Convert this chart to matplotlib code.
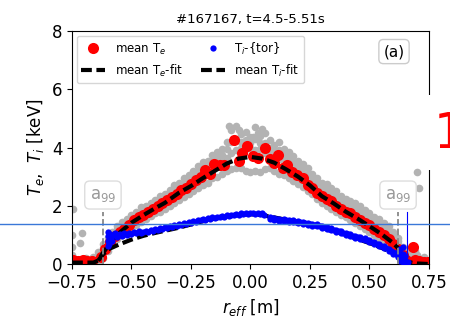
import numpy as np
import matplotlib
matplotlib.use("Agg")
import matplotlib.pyplot as plt
from matplotlib.lines import Line2D
from matplotlib.patches import Rectangle

title = "#167167, t=4.5-5.51s"
x_ticks = [-0.75, -0.50, -0.25, 0.00, 0.25, 0.50, 0.75]
y_ticks = [0, 2, 4, 6, 8]
a99_pos = [-0.62, 0.62]
ti_edge = 0.657

# raw Thomson channels (grey cloud): one r grid, four rows of values
gray_r = [-0.66, -0.64, -0.62, -0.60, -0.58, -0.56, -0.54, -0.52, -0.50, -0.48,
          -0.46, -0.44, -0.42, -0.40, -0.38, -0.36, -0.34, -0.32, -0.30, -0.28,
          -0.26, -0.24, -0.22, -0.20, -0.18, -0.16, -0.14, -0.12, -0.10, -0.08,
          -0.06, -0.04, -0.02, 0.00, 0.02, 0.04, 0.06, 0.08, 0.10, 0.12,
          0.14, 0.16, 0.18, 0.20, 0.22, 0.24, 0.26, 0.28, 0.30, 0.32,
          0.34, 0.36, 0.38, 0.40, 0.42, 0.44, 0.46, 0.48, 0.50, 0.52,
          0.54, 0.56, 0.58, 0.60, 0.62, 0.64, 0.66, 0.68]
gray_hi = [0.25, 0.4, 0.7, 0.9, 1.1, 1.3, 1.45, 1.55, 1.7, 1.8,
           1.95, 2.0, 2.1, 2.2, 2.35, 2.4, 2.55, 2.7, 2.8, 2.95,
           3.05, 3.2, 3.35, 3.5, 3.55, 3.75, 3.85, 3.95, 4.2, 4.6,
           4.75, 4.45, 4.55, 4.35, 4.7, 4.4, 4.5, 4.25, 4.1, 4.2,
           3.95, 3.85, 3.7, 3.55, 3.45, 3.3, 3.1, 2.95, 2.8, 2.75,
           2.6, 2.5, 2.35, 2.25, 2.15, 2.1, 2.0, 1.85, 1.75, 1.6,
           1.55, 1.4, 1.3, 1.1, 0.9, 0.6, 0.5, 0.35]
gray_up = [0.15, 0.3, 0.55, 0.8, 1.0, 1.2, 1.35, 1.45, 1.6, 1.7,
           1.8, 1.9, 2.0, 2.1, 2.2, 2.3, 2.45, 2.55, 2.65, 2.8,
           2.9, 3.0, 3.15, 3.3, 3.35, 3.55, 3.65, 3.75, 3.95, 4.2,
           4.3, 4.2, 4.25, 4.15, 4.3, 4.15, 4.15, 4.0, 3.9, 3.9,
           3.75, 3.65, 3.5, 3.4, 3.3, 3.1, 2.95, 2.85, 2.7, 2.6,
           2.5, 2.35, 2.25, 2.1, 2.0, 1.95, 1.85, 1.7, 1.6, 1.5,
           1.4, 1.3, 1.15, 1.0, 0.8, 0.5, 0.4, 0.25]
gray_mid = [0.1, 0.2, 0.45, 0.7, 0.9, 1.1, 1.25, 1.35, 1.5, 1.6,
            1.7, 1.8, 1.9, 2.0, 2.1, 2.2, 2.3, 2.4, 2.55, 2.6,
            2.75, 2.85, 2.95, 3.1, 3.2, 3.3, 3.45, 3.55, 3.65, 3.8,
            3.9, 4.0, 3.95, 4.0, 3.9, 3.95, 3.8, 3.75, 3.7, 3.6,
            3.5, 3.45, 3.3, 3.2, 3.1, 2.95, 2.85, 2.7, 2.55, 2.45,
            2.35, 2.25, 2.1, 2.0, 1.9, 1.8, 1.7, 1.6, 1.5, 1.4,
            1.3, 1.15, 1.0, 0.85, 0.7, 0.4, 0.3, 0.2]
gray_lo = [0.02, 0.05, 0.2, 0.45, 0.65, 0.85, 1.0, 1.15, 1.25, 1.35,
           1.45, 1.55, 1.65, 1.75, 1.8, 1.9, 2.0, 2.1, 2.2, 2.3,
           2.4, 2.5, 2.6, 2.7, 2.8, 2.95, 3.0, 3.1, 3.2, 3.25,
           3.3, 3.3, 3.2, 3.15, 3.2, 3.15, 3.25, 3.3, 3.2, 3.1,
           3.05, 2.95, 2.85, 2.75, 2.65, 2.5, 2.4, 2.25, 2.1, 2.0,
           1.9, 1.8, 1.7, 1.6, 1.5, 1.4, 1.3, 1.2, 1.1, 1.0,
           0.9, 0.8, 0.65, 0.55, 0.4, 0.15, 0.05, 0.05]
# scattered channels outside the main band
gray_extra = [(-0.745, 1.9), (-0.75, 1.0), (-0.75, 0.6), (-0.75, 0.3), (-0.74, 0.1),
              (-0.72, 0.05), (-0.716, 0.71), (-0.708, 1.05), (-0.70, 0.15), (-0.69, 0.2),
              (-0.68, 0.05), (-0.09, 4.75), (-0.05, 4.6), (-0.03, 4.2), (0.01, 4.35),
              (0.03, 4.5), (0.05, 4.65), (0.69, 0.45), (0.70, 3.16), (0.71, 2.6),
              (0.70, 0.3), (0.72, 0.15), (0.73, 0.25), (0.74, 0.05)]

# binned mean Te
te_mean = [(-0.745, 0.15), (-0.725, 0.12), (-0.705, 0.15), (-0.685, 0.1), (-0.665, 0.12),
           (-0.63, 0.25), (-0.61, 0.5), (-0.59, 0.75), (-0.57, 0.95), (-0.55, 1.1),
           (-0.53, 1.2), (-0.51, 1.35), (-0.49, 1.5), (-0.47, 1.62), (-0.45, 1.7),
           (-0.43, 1.8), (-0.41, 1.88), (-0.39, 2.0), (-0.37, 2.1), (-0.35, 2.2),
           (-0.33, 2.3), (-0.31, 2.4), (-0.29, 2.55), (-0.27, 2.62), (-0.25, 2.75),
           (-0.23, 2.9), (-0.21, 3.0), (-0.19, 3.22), (-0.17, 3.1), (-0.155, 3.45),
           (-0.13, 3.4), (-0.11, 3.4), (-0.07, 4.26), (-0.05, 3.55), (-0.035, 3.8),
           (-0.015, 4.05), (0.01, 3.7), (0.03, 3.65), (0.06, 3.98), (0.08, 3.6),
           (0.10, 3.47), (0.115, 3.75), (0.135, 3.3), (0.155, 3.4), (0.175, 3.15),
           (0.195, 3.06), (0.22, 2.95), (0.24, 2.7), (0.26, 2.6), (0.28, 2.45),
           (0.30, 2.35), (0.32, 2.25), (0.34, 2.15), (0.36, 2.0), (0.38, 1.9),
           (0.40, 1.8), (0.42, 1.75), (0.44, 1.6), (0.46, 1.5), (0.48, 1.4),
           (0.50, 1.35), (0.52, 1.2), (0.54, 1.1), (0.56, 1.0), (0.58, 0.85),
           (0.60, 0.7), (0.62, 0.5), (0.64, 0.3), (0.655, 0.15), (0.683, 0.58),
           (0.69, 0.15), (0.71, 0.1), (0.73, 0.08), (0.745, 0.06)]

# Te fit
te_fit_r = [-0.75, -0.70, -0.66, -0.64, -0.62, -0.60, -0.58, -0.55, -0.50, -0.45,
            -0.40, -0.36, -0.30, -0.25, -0.20, -0.15, -0.10, -0.05, 0.00, 0.05,
            0.10, 0.15, 0.20, 0.25, 0.30, 0.35, 0.40, 0.45, 0.50, 0.55,
            0.60, 0.62, 0.64, 0.66, 0.70, 0.75]
te_fit = [0.05, 0.05, 0.05, 0.12, 0.38, 0.6, 0.82, 1.08, 1.42, 1.68,
          1.92, 2.1, 2.45, 2.68, 2.95, 3.2, 3.45, 3.62, 3.68, 3.62,
          3.48, 3.25, 3.0, 2.7, 2.33, 2.08, 1.8, 1.56, 1.3, 1.03,
          0.72, 0.55, 0.25, 0.07, 0.02, 0.0]

# toroidal Ti points
ti_pts = [(-0.60, 0.62), (-0.60, 0.78), (-0.60, 0.95), (-0.60, 1.1), (-0.595, 0.7),
          (-0.59, 0.88), (-0.59, 1.02), (-0.58, 0.8), (-0.58, 0.95), (-0.57, 1.05),
          (-0.56, 0.92), (-0.55, 1.02), (-0.54, 0.95), (-0.53, 1.05), (-0.52, 1.0),
          (-0.51, 1.08), (-0.50, 1.02), (-0.49, 1.1), (-0.48, 1.05), (-0.47, 1.12),
          (-0.46, 1.06), (-0.45, 1.1), (-0.44, 1.14), (-0.43, 1.1), (-0.42, 1.18),
          (-0.41, 1.15), (-0.40, 1.2), (-0.39, 1.18), (-0.38, 1.25), (-0.37, 1.22),
          (-0.36, 1.26), (-0.35, 1.24), (-0.34, 1.3), (-0.33, 1.28), (-0.32, 1.33),
          (-0.31, 1.3), (-0.30, 1.38), (-0.29, 1.35), (-0.28, 1.4), (-0.27, 1.38),
          (-0.26, 1.45), (-0.25, 1.42), (-0.24, 1.47), (-0.23, 1.45), (-0.22, 1.52),
          (-0.21, 1.5), (-0.20, 1.54), (-0.19, 1.52), (-0.18, 1.58), (-0.17, 1.55),
          (-0.16, 1.6), (-0.15, 1.58), (-0.14, 1.63), (-0.13, 1.6), (-0.12, 1.65),
          (-0.11, 1.63), (-0.10, 1.68), (-0.09, 1.66), (-0.08, 1.7), (-0.07, 1.68),
          (-0.06, 1.73), (-0.05, 1.7), (-0.04, 1.74), (-0.03, 1.72), (-0.02, 1.76),
          (-0.01, 1.72), (0.00, 1.74), (0.01, 1.76), (0.02, 1.73), (0.03, 1.75),
          (0.04, 1.72), (0.05, 1.74), (0.055, 1.7),
          (0.08, 1.61), (0.08, 1.54), (0.09, 1.57), (0.10, 1.58), (0.10, 1.51),
          (0.11, 1.54), (0.12, 1.56), (0.12, 1.49), (0.13, 1.52), (0.14, 1.54),
          (0.14, 1.47), (0.15, 1.5), (0.16, 1.52), (0.16, 1.45), (0.17, 1.48),
          (0.18, 1.5), (0.18, 1.43), (0.19, 1.46), (0.20, 1.48), (0.20, 1.41),
          (0.21, 1.44), (0.22, 1.45), (0.22, 1.38), (0.23, 1.4), (0.24, 1.42),
          (0.24, 1.35), (0.25, 1.37), (0.26, 1.39), (0.26, 1.32), (0.27, 1.34),
          (0.28, 1.36), (0.28, 1.29), (0.29, 1.31), (0.30, 1.32), (0.30, 1.25),
          (0.31, 1.27), (0.32, 1.28), (0.32, 1.21), (0.33, 1.22), (0.34, 1.23),
          (0.34, 1.16), (0.35, 1.18), (0.36, 1.18), (0.36, 1.11), (0.37, 1.13),
          (0.38, 1.13), (0.38, 1.06), (0.39, 1.07), (0.40, 1.07), (0.40, 1.0),
          (0.41, 1.02), (0.42, 1.03), (0.42, 0.96), (0.43, 0.97), (0.44, 0.98),
          (0.44, 0.91), (0.45, 0.92), (0.46, 0.93), (0.46, 0.86), (0.47, 0.87),
          (0.48, 0.88), (0.48, 0.81), (0.49, 0.82), (0.50, 0.82), (0.50, 0.75),
          (0.51, 0.76), (0.52, 0.76), (0.52, 0.69), (0.53, 0.7), (0.54, 0.7),
          (0.54, 0.63), (0.55, 0.63), (0.56, 0.62), (0.56, 0.55), (0.57, 0.55),
          (0.58, 0.53), (0.58, 0.46), (0.59, 0.45), (0.60, 0.43), (0.60, 0.36),
          (0.61, 0.34), (0.62, 0.31), (0.62, 0.24), (0.62, 0.42), (0.63, 0.12),
          (0.63, 0.22), (0.63, 0.5), (0.64, 0.06), (0.64, 0.17), (0.64, 0.33),
          (0.64, 0.6), (0.65, 0.04), (0.65, 0.12), (0.65, 0.26), (0.655, 0.05),
          (0.66, 0.08)]

# Ti fit
ti_fit_r = [-0.64, -0.62, -0.60, -0.55, -0.50, -0.45, -0.40, -0.35, -0.30, -0.25,
            -0.20, -0.15, -0.10, -0.05, 0.00, 0.05, 0.10, 0.15, 0.20, 0.25,
            0.30, 0.35, 0.40, 0.45, 0.50, 0.55, 0.60, 0.63, 0.65, 0.66]
ti_fit = [0.12, 0.33, 0.5, 0.68, 0.84, 0.97, 1.07, 1.16, 1.25, 1.36,
          1.47, 1.56, 1.64, 1.69, 1.71, 1.68, 1.6, 1.52, 1.44, 1.36,
          1.26, 1.14, 1.0, 0.86, 0.72, 0.56, 0.38, 0.22, 0.1, 0.02]

fig = plt.figure(figsize=(4.5, 3.26), dpi=100)
ax = fig.add_axes([0.16, 0.19, 0.7933, 0.7147])

gx = np.array(gray_extra).T
for row in (gray_hi, gray_up, gray_mid, gray_lo):
    ax.plot(gray_r, row, "o", color="#b3b3b3", ms=5.5, mew=0, zorder=1)
ax.plot(gx[0], gx[1], "o", color="#b3b3b3", ms=5.5, mew=0, zorder=1)

tm = np.array(te_mean).T
h_te, = ax.plot(tm[0], tm[1], "o", color="red", ms=8, mew=0, zorder=2)
h_tefit, = ax.plot(te_fit_r, te_fit, color="k", lw=3, dashes=(2.6, 1.1), zorder=3)
h_tifit, = ax.plot(ti_fit_r, ti_fit, color="k", lw=3, dashes=(2.6, 1.1), zorder=3)
tp = np.array(ti_pts).T
h_ti, = ax.plot(tp[0], tp[1], "o", color="blue", ms=4.5, mew=0, zorder=4)

for xa in a99_pos:
    ax.plot([xa, xa], [0, 1.8], ls="--", color="#888888", lw=1.3, zorder=5)
    ax.text(xa, 2.37, "a$_{99}$", ha="center", va="center", fontsize=12, color="#999999",
            bbox=dict(boxstyle="round,pad=0.3", fc="white", ec="#dddddd"), zorder=6)
ax.plot([ti_edge, ti_edge], [0, 1.79], color="blue", lw=0.8, zorder=5)

ax.text(0.902, 0.912, "(a)", transform=ax.transAxes, ha="center", va="center", fontsize=11,
        bbox=dict(boxstyle="round,pad=0.3", fc="white", ec="#cccccc"))

ax.legend([h_te, h_tefit, h_ti, h_tifit],
          ["mean T$_e$", "mean T$_e$-fit", "T$_i$-{tor}", "mean T$_i$-fit"],
          ncol=2, loc="upper left", fontsize=8.5, handlelength=2.0,
          borderaxespad=0.4, columnspacing=1.6)

ax.set_xlim(-0.75, 0.75)
ax.set_ylim(0, 8)
ax.set_xticks(x_ticks)
ax.set_yticks(y_ticks)
ax.tick_params(labelsize=12, length=3.5)
ax.set_xlabel("$r_{eff}$ [m]", fontsize=12)
ax.set_ylabel("$T_e$,  $T_i$ [keV]", fontsize=12)
ax.set_title(title, fontsize=9.5)

# neighbouring panel label and guide line
fig.add_artist(Rectangle((0.951, 0.479), 0.06, 0.23, transform=fig.transFigure,
                         fc="white", ec="none", zorder=10))
fig.text(0.964, 0.546, "1", color="red", fontsize=35, ha="left", va="baseline", zorder=11)
fig.add_artist(Line2D([0, 1], [0.313, 0.313], transform=fig.transFigure,
                      color="#3a78d8", lw=1, zorder=12))

fig.savefig("out.png", dpi=100)
